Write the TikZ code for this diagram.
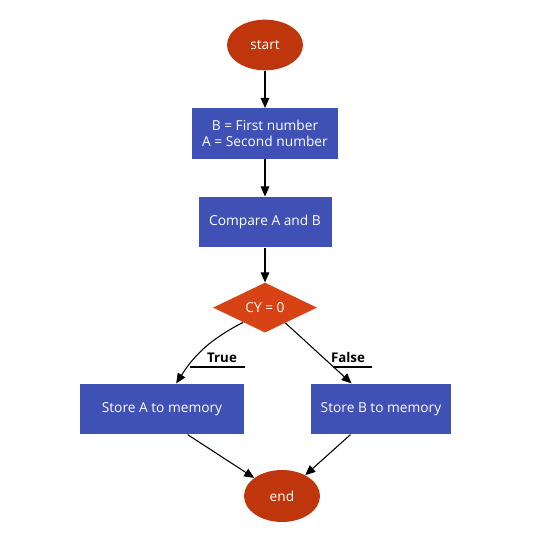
\documentclass[tikz,border=0pt]{standalone}
\usepackage{fontspec}
\setmainfont{Open Sans}
\usetikzlibrary{shapes.geometric, positioning, arrows.meta}
\definecolor{termred}{HTML}{BF360C}
\definecolor{procblue}{HTML}{3F51B5}
\definecolor{decorange}{HTML}{D84315}

\begin{document}
\begin{tikzpicture}[
        x=0.75pt, y=-0.75pt,
        node distance=28pt,
        font=\fontsize{10.3}{11.6}\selectfont,
        % Define styles for the nodes
        terminal/.style={ellipse, fill=termred, text=white, inner sep=0pt, minimum width=57pt, minimum height=38pt},
        process/.style={rectangle, fill=procblue, text=white, inner sep=2pt, minimum height=38pt, align=center},
        decision/.style={diamond, fill=decorange, text=white, inner sep=0pt, aspect=2, minimum width=78pt, minimum height=37.5pt},
        myarrow/.style={-{Triangle[length=7.5pt,width=6.5pt]}, line width=0.8pt},
        label text/.style={font=\fontsize{10}{12}\selectfont\bfseries, inner sep=0pt, anchor=base},
        leader/.style={line width=0.8pt}
    ]
        \useasboundingbox (0,0) rectangle (541,534);

        % --- Nodes ---
        \node[terminal] (start) at (265,45) {start};
        \node[process, minimum width=109.5pt, below=of start] (read) {B = First number\\A = Second number};
        \node[process, minimum width=99.75pt, below=of read] (compare) {Compare A and B};
        \node[decision, below=26pt of compare] (cy) {CY = 0};

        \node[process, minimum width=123pt] (storea) at (162,409) {Store A to memory};
        \node[process, minimum width=105pt] (storeb) at (381,409) {Store B to memory};
        \node[terminal, minimum height=39pt] (end) at (282,496) {end};

        % branch labels
        \node[label text] (truelbl) at (222,362) {True};
        \node[label text] (falselbl) at (348,362) {False};

        % --- Edges ---
        \draw[myarrow] (start) -- (read);
        \draw[myarrow] (read) -- (compare);
        \draw[myarrow] (compare) -- (cy);

        \draw[myarrow] (cy.214) to[bend right=15] (storea.61);
        \draw[myarrow] (cy.-37) -- (storeb.139);

        \draw[myarrow] (storea.-45) -- (end);
        \draw[myarrow] (storeb.-140) -- (end);

        % underlines of the labels
        \draw[leader] ([shift={(-32,5)}]truelbl.base) -- ([shift={(23,5)}]truelbl.base);
        \draw[leader] ([shift={(-15,5)}]falselbl.base) -- ([shift={(24,5)}]falselbl.base);

    \end{tikzpicture}
\end{document}
